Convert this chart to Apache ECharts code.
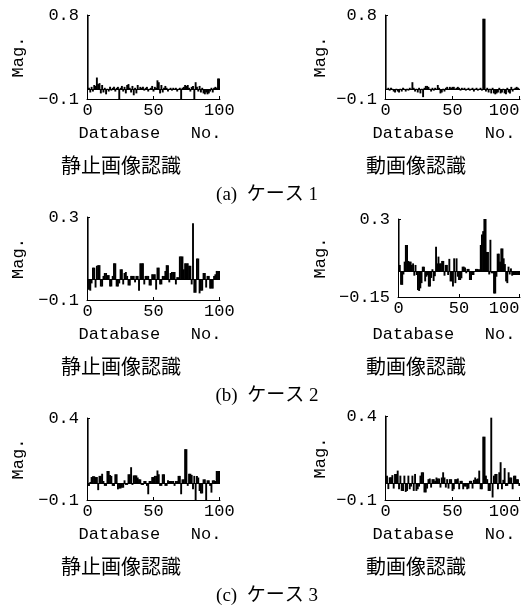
<!DOCTYPE html>
<html>
<head>
<meta charset="utf-8">
<script src="https://cdn.jsdelivr.net/npm/echarts@6/dist/echarts.min.js"></script>
<style>
html,body{margin:0;padding:0;background:#fff;}
#chart{width:532px;height:608px;}
</style>
</head>
<body>
<div id="chart"></div>
<script>
// ---- Data (Database No. 0..100) ----
const xTickLabels = ['0', '50', '100'];
const still1 = [0.8,0.02,-0.03,0.03,-0.02,0.05,0.04,0.13,0.06,0.07,-0.04,0.05,-0.03,0.02,-0.05,0.01,-0.02,0.03,-0.01,0.02,0.03,-0.02,0.02,0.03,-0.1,0.02,0.04,-0.02,0.03,-0.04,0.05,0.06,0.02,-0.03,0.04,-0.06,0.02,-0.04,0.05,0.01,0.03,0.02,0.03,-0.01,0.02,0.03,-0.02,0.01,0.02,0.04,-0.02,0.03,0.02,0.1,0.08,-0.04,0.05,-0.03,0.02,0.04,0.02,-0.02,0.01,0.02,-0.01,0.02,0.01,0.02,-0.02,0.01,0.02,-0.1,0.02,0.03,0.05,0.04,0.05,0.02,-0.02,0.03,0.04,-0.1,0.08,0.03,-0.02,0.04,-0.03,0.02,-0.04,-0.05,-0.03,-0.05,-0.04,-0.02,0.02,-0.03,0.02,0.03,0.02,0.12,0.12];
const video1 = [0.8,0.01,0.02,-0.01,0.02,0.01,-0.02,-0.03,0.01,-0.02,-0.03,0.01,-0.02,0.02,0.01,-0.02,0.01,-0.01,0.02,0.01,0.08,0.02,-0.02,0.01,-0.03,0.02,-0.04,0.01,-0.08,0.02,0.04,0.04,0.03,0.01,-0.02,0.02,-0.01,0.02,0.01,0.05,0.02,-0.04,-0.03,0.01,-0.02,0.02,0.03,0.01,0.03,0.02,0.03,0.03,0.01,0.02,0.03,0.02,-0.01,0.02,0.01,0.02,-0.01,0.01,0.02,-0.01,0.01,0.02,-0.02,0.01,0.02,-0.01,0.01,0.02,-0.01,0.76,0.76,-0.02,0.02,-0.03,0.01,-0.04,0.02,-0.04,-0.05,-0.04,-0.03,0.02,-0.04,-0.03,0.01,-0.04,-0.05,0.02,-0.03,-0.04,0.03,-0.02,0.01,0.02,0.03,0.02,0.01];
const still2 = [0.3,-0.05,-0.055,-0.02,0.056,0.056,-0.04,0.065,0.068,0.068,-0.035,-0.035,0.016,0.03,0.03,0.02,0.02,-0.035,-0.035,0.016,0.077,0.077,-0.035,-0.035,-0.02,0.048,0.048,-0.025,0.03,0.035,0.016,-0.03,-0.03,0.016,0.016,0.016,-0.015,0.016,0.016,-0.055,0.077,0.077,0.077,-0.025,0.016,0.016,0.016,-0.03,-0.03,0.024,0.024,0.024,-0.05,0.056,0.056,-0.025,-0.025,0.016,0.016,0.04,0.068,0.068,-0.015,0.03,0.035,0.035,0.035,-0.025,0.01,0.01,0.11,0.11,0.11,0.048,0.077,0.077,0.077,0.065,0.065,-0.025,0.27,-0.065,-0.065,0.1,0.1,-0.068,-0.055,-0.055,0.03,0.03,-0.04,0.016,0.016,-0.045,-0.045,-0.045,0.016,0.024,0.04,0.04,0.04];
const video2 = [0.3,0.035,-0.08,-0.08,-0.02,0.054,0.15,0.15,0.058,0.054,0.054,0.035,0.044,-0.027,0.035,-0.023,-0.11,-0.115,-0.1,-0.07,0.025,0.025,-0.06,-0.033,-0.025,-0.09,-0.09,-0.04,0.01,-0.058,-0.03,0.14,0.044,0.083,0.044,0.044,0.058,0.058,-0.027,0.035,0.035,-0.023,0.07,-0.06,-0.06,-0.09,0.073,-0.07,0.073,-0.033,-0.052,-0.052,-0.042,0.025,0.025,0.02,-0.013,0.012,0.012,-0.052,-0.052,-0.023,-0.023,-0.004,0.012,0.012,0.01,0.01,0.15,0.21,0.23,0.3,0.3,0.11,0.11,-0.02,0.18,-0.013,-0.013,-0.13,-0.13,-0.033,0.1,0.1,0.054,0.13,0.13,0.073,0.04,-0.06,-0.07,0.025,-0.02,0.015,-0.027,-0.023,-0.023,-0.023,-0.023,-0.023,-0.023];
const still3 = [0.4,-0.015,0.01,0.04,0.045,0.045,0.04,0.04,-0.04,0.047,0.047,0.06,0.016,-0.014,-0.014,0.077,0.077,0.053,0.047,-0.014,-0.014,0.057,0.057,-0.035,-0.03,-0.03,-0.025,-0.025,0.02,-0.008,-0.008,0.057,0.057,0.1,-0.008,0.05,0.05,0.05,0.037,0.026,0.026,-0.008,-0.008,0.016,0.016,-0.014,-0.065,0.016,0.016,0.04,0.04,0.047,0.047,0.08,0.057,-0.014,-0.014,0.057,0.057,-0.014,-0.014,0.02,0.016,0.016,0.016,0.016,-0.014,0.016,0.016,0.047,0.047,-0.065,0.026,0.026,0.21,0.21,-0.014,0.06,0.06,0.053,-0.035,0.047,-0.1,0.047,0.037,-0.045,-0.06,-0.06,0.026,0.026,-0.1,0.02,0.02,-0.014,-0.055,0.02,0.02,0.016,0.077,0.077,0.077];
const video3 = [0.4,0.045,-0.035,0.035,0.035,0.048,-0.032,0.055,0.055,0.075,-0.036,0.045,-0.046,-0.046,0.045,-0.052,-0.046,0.045,-0.036,-0.02,0.045,-0.046,0.055,-0.046,-0.036,-0.02,0.045,0.065,0.065,-0.055,-0.055,-0.032,0.024,0.028,-0.026,0.024,0.024,0.014,0.034,0.028,0.028,-0.026,0.034,0.065,0.034,-0.026,0.024,-0.032,0.024,0.024,-0.046,-0.036,0.024,0.024,0.028,-0.036,0.014,0.014,-0.036,-0.02,-0.02,-0.036,-0.032,0.014,0.014,-0.032,0.02,0.034,0.024,0.028,0.075,-0.036,-0.036,0.277,0.277,0.045,0.024,-0.046,-0.046,0.39,-0.085,0.045,0.055,0.055,-0.036,0.065,0.125,-0.036,0.02,0.09,-0.016,-0.016,0.065,0.034,0.034,-0.036,0.045,0.045,0.024,0.024,-0.016];

const panelSeries = [still1, video1, still2, video2, still3, video3];
const yMins = [-0.1, -0.1, -0.1, -0.15, -0.1, -0.1];
const yMaxs = [0.8, 0.8, 0.3, 0.3, 0.4, 0.4];
const yName = 'Mag.';
const xName = 'Database   No.';
const panelTitles = ['静止画像認識', '動画像認識'];
const captions = ['(a)  ケース 1', '(b)  ケース 2', '(c)  ケース 3'];

// ---- Layout ----
const categories = still1.map((_, i) => String(i));
const grids = [
  {left: 87, top: 15, width: 133, height: 84},
  {left: 385, top: 15, width: 135, height: 84},
  {left: 87, top: 217, width: 133, height: 83},
  {left: 398, top: 219, width: 122, height: 78},
  {left: 87, top: 418, width: 133, height: 82},
  {left: 385, top: 416, width: 135, height: 84}
];
const nameGaps = [60, 56, 60, 69, 60, 56];
const mono = '"Liberation Mono", "DejaVu Sans Mono", monospace';
const cjk = '"Noto Sans CJK JP", sans-serif';
const serif = '"Liberation Serif", "Noto Sans CJK JP", serif';
const ink = '#000';

function fmt(v) {
  const r = Math.round(v * 100) / 100;
  return String(r).replace('-', '\u2212');
}

const xAxes = [], yAxes = [], series = [];
grids.forEach((g, i) => {
  xAxes.push({
    gridIndex: i, type: 'category', data: categories, boundaryGap: true,
    axisLine: {onZero: false, lineStyle: {color: ink, width: 1}},
    axisTick: {show: true, inside: true, length: 3, interval: 49, alignWithLabel: true, lineStyle: {color: ink}},
    axisLabel: {interval: 49, color: ink, fontFamily: mono, fontSize: 17, margin: 3,
      formatter: (v) => xTickLabels[Math.round(Number(v) / 50)],
      alignMaxLabel: (i % 2 === 1) ? 'right' : null},
    splitLine: {show: false}
  });
  yAxes.push({
    gridIndex: i, type: 'value', min: yMins[i], max: yMaxs[i], interval: yMaxs[i] - yMins[i],
    axisLine: {show: true, lineStyle: {color: ink, width: 1}},
    axisTick: {show: true, inside: true, length: 3, lineStyle: {color: ink}},
    axisLabel: {color: ink, fontFamily: mono, fontSize: 17, margin: 8, formatter: fmt},
    splitLine: {show: false},
    name: yName, nameLocation: 'middle', nameRotate: 90, nameGap: nameGaps[i],
    nameTextStyle: {color: ink, fontFamily: mono, fontSize: 17}
  });
  series.push({
    type: 'bar', xAxisIndex: i, yAxisIndex: i, data: panelSeries[i],
    barWidth: 1.9, itemStyle: {color: ink}, animation: false, silent: true,
    markLine: {silent: true, symbol: 'none', label: {show: false}, animation: false,
      lineStyle: {color: ink, width: 1, type: 'solid'}, data: [{yAxis: 0}]}
  });
});

// Text blocks under the panels
const rowBottoms = [99, 300, 500];
const graphic = [];
rowBottoms.forEach((b, r) => {
  [[150, 0], [444, 1]].forEach(([cx, c]) => {
    graphic.push({type: 'text', x: cx, y: b + 34,
      style: {text: xName, font: '17px ' + mono, fill: ink, textAlign: 'center', textVerticalAlign: 'middle'}});
  });
  graphic.push({type: 'text', x: 121, y: b + 66,
    style: {text: panelTitles[0], font: '20px ' + cjk, fill: ink, textAlign: 'center', textVerticalAlign: 'middle'}});
  graphic.push({type: 'text', x: 416, y: b + 66,
    style: {text: panelTitles[1], font: '20px ' + cjk, fill: ink, textAlign: 'center', textVerticalAlign: 'middle'}});
  graphic.push({type: 'text', x: 267, y: b + 96,
    style: {text: captions[r], font: '19px ' + serif, fill: ink, textAlign: 'center', textVerticalAlign: 'middle'}});
});

const chart = echarts.init(document.getElementById('chart'), null, {renderer: 'canvas'});
chart.setOption({
  backgroundColor: '#fff',
  animation: false,
  grid: grids,
  xAxis: xAxes,
  yAxis: yAxes,
  series: series,
  graphic: graphic
});
</script>
</body>
</html>
